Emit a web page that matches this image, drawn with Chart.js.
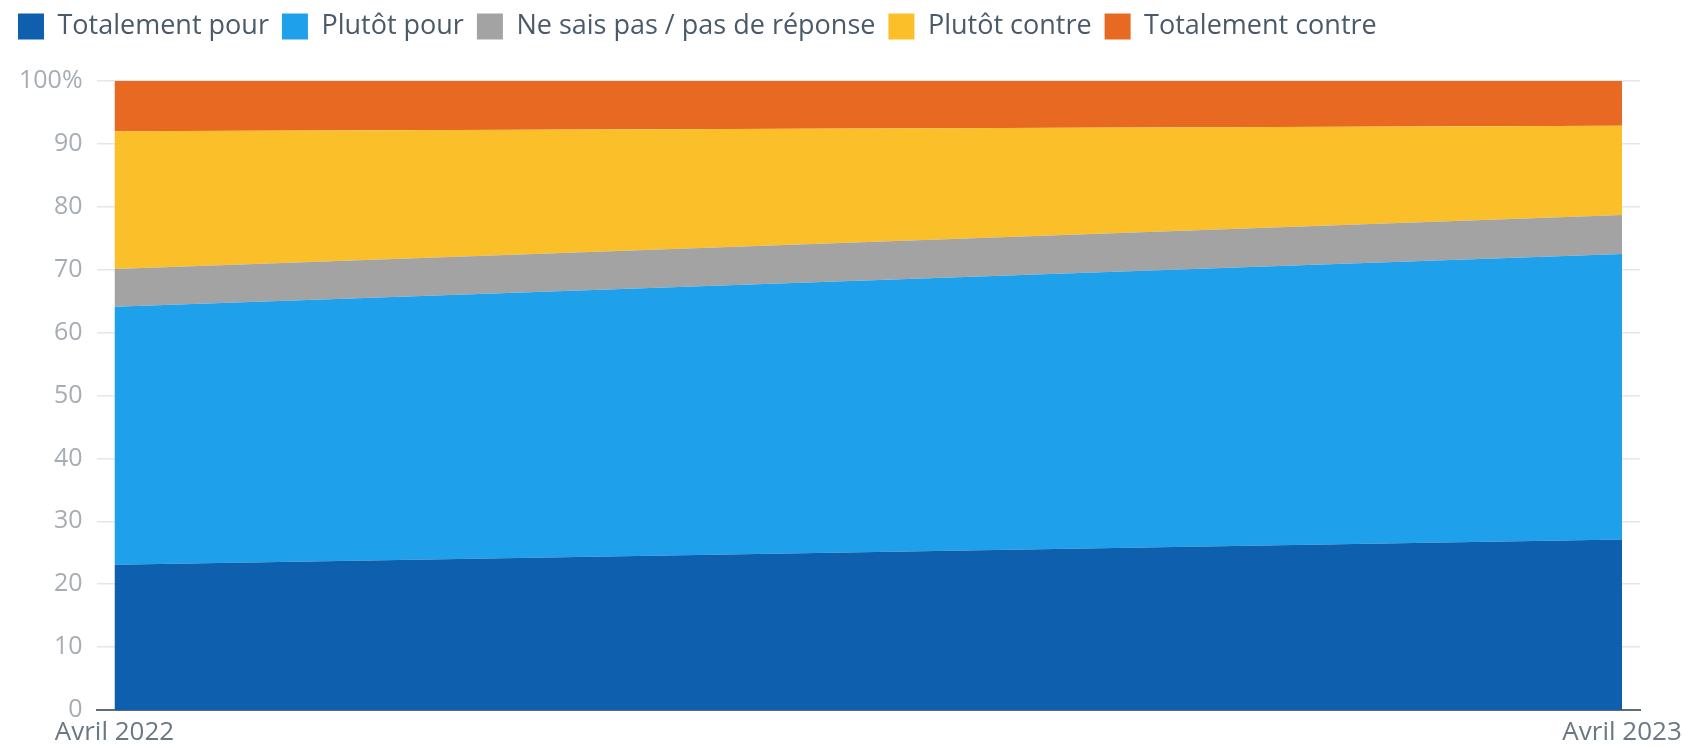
<!DOCTYPE html>
<html>
<head>
<meta charset="utf-8">
<script src="https://cdn.jsdelivr.net/npm/chart.js@4/dist/chart.umd.min.js"></script>
<style>
  html, body { margin: 0; padding: 0; background: #fff; }
  #wrap { width: 1688px; height: 748px; }
</style>
</head>
<body>
<div id="wrap"><canvas id="chart"></canvas></div>
<script>
// categories (x positions 0 and 1)
const periods = ['Avril 2022', 'Avril 2023'];

// series values, in % of answers
const totalementPour = [23.1, 27.1];
const plutotPour = [41.0, 45.4];
const neSaisPas = [6.0, 6.2];
const plutotContre = [21.9, 14.2];
const totalementContre = [8.0, 7.1];

const seriesNames = ['Totalement pour', 'Plutôt pour', 'Ne sais pas / pas de réponse', 'Plutôt contre', 'Totalement contre'];
const seriesColors = ['#0e5fad', '#1fa0ea', '#a3a3a3', '#fbbf29', '#e86a22'];
const seriesValues = [totalementPour, plutotPour, neSaisPas, plutotContre, totalementContre];

const yTicks = [0, 10, 20, 30, 40, 50, 60, 70, 80, 90, 100];

const fontFamily = '"Open Sans", "Noto Sans", sans-serif';

const datasets = seriesValues.map((vals, i) => ({
    label: seriesNames[i],
    data: vals.map((v, j) => ({ x: j, y: v })),
    backgroundColor: seriesColors[i],
    borderColor: seriesColors[i],
    borderWidth: 0,
    pointRadius: 0,
    fill: i === 0 ? 'origin' : '-1',
    tension: 0
}));

// extra space under the legend
const legendMargin = {
    id: 'legendMargin',
    beforeInit(chart) {
        const fit = chart.legend.fit;
        chart.legend.fit = function () {
            fit.bind(chart.legend)();
            this.height += 31;
        };
    }
};

const ctx = document.getElementById('chart').getContext('2d');
new Chart(ctx, {
    type: 'line',
    data: { datasets: datasets },
    plugins: [legendMargin],
    options: {
        responsive: true,
        maintainAspectRatio: false,
        animation: false,
        layout: { padding: { left: 5, right: 48, top: 0, bottom: 0 } },
        plugins: {
            tooltip: { enabled: false },
            legend: {
                position: 'top',
                align: 'start',
                labels: {
                    boxWidth: 26,
                    boxHeight: 26,
                    padding: 13,
                    color: '#4b5a69',
                    font: { family: fontFamily, size: 27 }
                }
            }
        },
        scales: {
            x: {
                type: 'linear',
                min: -0.0119,
                max: 1.0119,
                afterBuildTicks: axis => { axis.ticks = periods.map((p, i) => ({ value: i })); },
                ticks: {
                    callback: v => periods[v],
                    color: '#6b7785',
                    font: { family: fontFamily, size: 26, lineHeight: 1.0 },
                    maxRotation: 0,
                    padding: 2
                },
                grid: { display: false },
                border: { display: true, color: '#5f6b78', width: 2 }
            },
            y: {
                stacked: true,
                min: 0,
                max: 100,
                afterBuildTicks: axis => { axis.ticks = yTicks.map(v => ({ value: v })); },
                ticks: {
                    callback: v => v === 100 ? '100%' : v,
                    color: '#a7adb4',
                    font: { family: fontFamily, size: 25 },
                    padding: 14
                },
                grid: { color: '#e6e6e6', lineWidth: 1.5, drawTicks: false },
                border: { display: false }
            }
        }
    }
});
</script>
</body>
</html>
